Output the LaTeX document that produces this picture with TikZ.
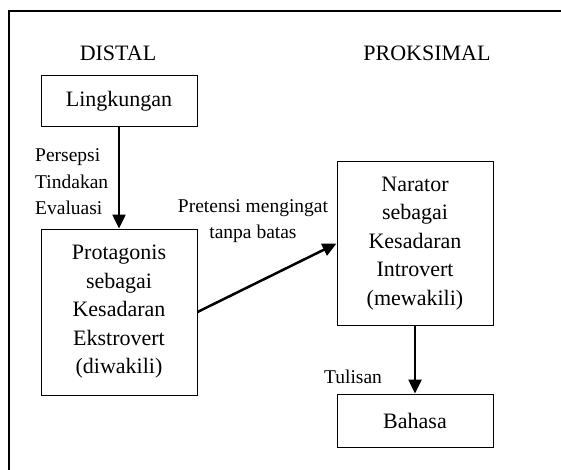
\documentclass[tikz,border=0pt]{standalone}
\usepackage{fontspec}
\setmainfont{Liberation Serif}
\usetikzlibrary{arrows.meta}
\begin{document}
\begin{tikzpicture}[x=1pt,y=-1pt,
  box/.style={draw,line width=1pt,minimum width=156pt,align=center,
    font=\fontsize{22}{28.5}\selectfont,inner sep=0pt},
  lbl/.style={font=\fontsize{19.5}{26.5}\selectfont,inner sep=0pt},
  head/.style={font=\fontsize{22}{28}\selectfont,inner sep=0pt},
  arr/.style={line width=2.5pt,-{Triangle[length=14pt,width=13pt]}}]
\clip (0,0) rectangle (561,470);
\draw[line width=1.5pt] (9,11) rectangle (620,520);
\node[head] (distal) at (118,53) {DISTAL};
\node[head] (proks) at (427,53) {PROKSIMAL};
\node[box,minimum height=51pt] (ling) at (119,101.5) {Lingkungan};
\node[box,minimum height=166pt] (prot) at (119,312) {Protagonis\\sebagai\\Kesadaran\\Ekstrovert\\(diwakili)};
\node[box,minimum height=163pt] (nar) at (415,243.5) {Narator\\sebagai\\Kesadaran\\Introvert\\(mewakili)};
\node[box,minimum height=53pt] (bah) at (415,420.5) {Bahasa};
\node[lbl,align=left,anchor=west] (persepsi) at (35,182) {Persepsi\\Tindakan\\Evaluasi};
\node[lbl,align=center] (pretensi) at (253,221) {Pretensi mengingat\\tanpa batas};
\node[lbl] (tulisan) at (353,377) {Tulisan};
\draw[arr] (ling) -- (prot);
\draw[arr] (prot.east) -- (nar.west);
\draw[arr] (nar) -- (bah);
\end{tikzpicture}
\end{document}
